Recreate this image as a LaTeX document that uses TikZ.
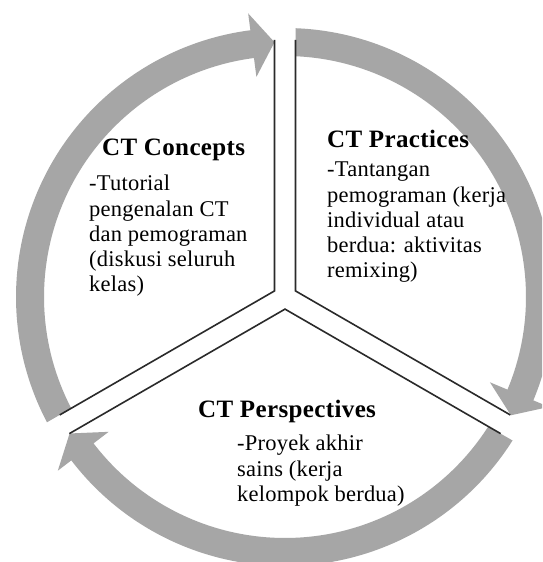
\documentclass[tikz,border=0pt]{standalone}
\usepackage{fontspec}
\setmainfont{Liberation Serif}[LetterSpace=1.0]
\newfontfamily\titlefont{Liberation Serif}[LetterSpace=1.5]
\definecolor{ringgray}{HTML}{A6A6A6}
\definecolor{sepcol}{HTML}{2A2A2A}
\begin{document}
\begin{tikzpicture}[x=1pt,y=1pt,
  ringarrow/.style={fill=ringgray, draw=none},
  sepline/.style={draw=sepcol, line width=1.6pt, line join=miter},
  titletext/.style={anchor=base west, inner sep=0pt, font=\titlefont\bfseries\fontsize{25}{27}\selectfont},
  bodytext/.style={anchor=base west, inner sep=0pt, font=\fontsize{22.5}{25.2}\selectfont}]
\useasboundingbox (0,0) rectangle (542,562);
\clip (0,0) rectangle (542,562);
\fill[white] (0,0) rectangle (542,562);
\begin{scope}[shift={(285,265)}]
  % arrows of the ring
  \fill[ringarrow] (207.76:269) arc[start angle=207.76, end angle=97.4, radius=269]
     -- (97.4:286) -- (92.36:255) -- (97.4:222) -- (97.4:241)
     arc[start angle=97.4, end angle=207.5, radius=241] -- cycle;
  \fill[ringarrow] (87.76:269) arc[start angle=87.76, end angle=-22.6, radius=269]
     -- (-22.6:286) -- (-27.64:255) -- (-22.6:222) -- (-22.6:241)
     arc[start angle=-22.6, end angle=87.5, radius=241] -- cycle;
  \fill[ringarrow] (-32.24:269) arc[start angle=-32.24, end angle=-142.6, radius=269]
     -- (-142.6:286) -- (-147.64:255) -- (-142.6:222) -- (-142.6:241)
     arc[start angle=-142.6, end angle=-32.5, radius=241] -- cycle;
  % separators
  \coordinate (atop) at (-10.5,257);
  \coordinate (acorner) at (-10.5,6.06);
  \coordinate (aend) at (-225.3,-117.94);
  \coordinate (btop) at (10.5,257);
  \coordinate (bcorner) at (10.5,6.06);
  \coordinate (bend) at (225.3,-117.94);
  \coordinate (dleft) at (-215.6,-136.6);
  \coordinate (dcorner) at (0,-12.12);
  \coordinate (dright) at (215.6,-136.6);
  \draw[sepline] (atop) -- (acorner) -- (aend);
  \draw[sepline] (btop) -- (bcorner) -- (bend);
  \draw[sepline] (dleft) -- (dcorner) -- (dright);
\end{scope}
% texts
\node[titletext] (ctitle) at (102,406) {CT Concepts};
\node[bodytext] (cbody) at (89,371) {\parbox[t]{230pt}{\raggedright -Tutorial\\pengenalan CT\\dan pemograman\\(diskusi seluruh\\kelas)}};
\node[titletext] (ptitle) at (327,414) {CT Practices};
\node[bodytext] (pbody) at (327,385) {\parbox[t]{230pt}{\raggedright -Tantangan\\pemograman (kerja\\individual atau\\berdua: aktivitas\\remixing)}};
\node[titletext] (stitle) at (198,144) {CT Perspectives};
\node[bodytext] (sbody) at (237,111) {\parbox[t]{230pt}{\raggedright -Proyek akhir\\sains (kerja\\kelompok berdua)}};
\end{tikzpicture}
\end{document}
